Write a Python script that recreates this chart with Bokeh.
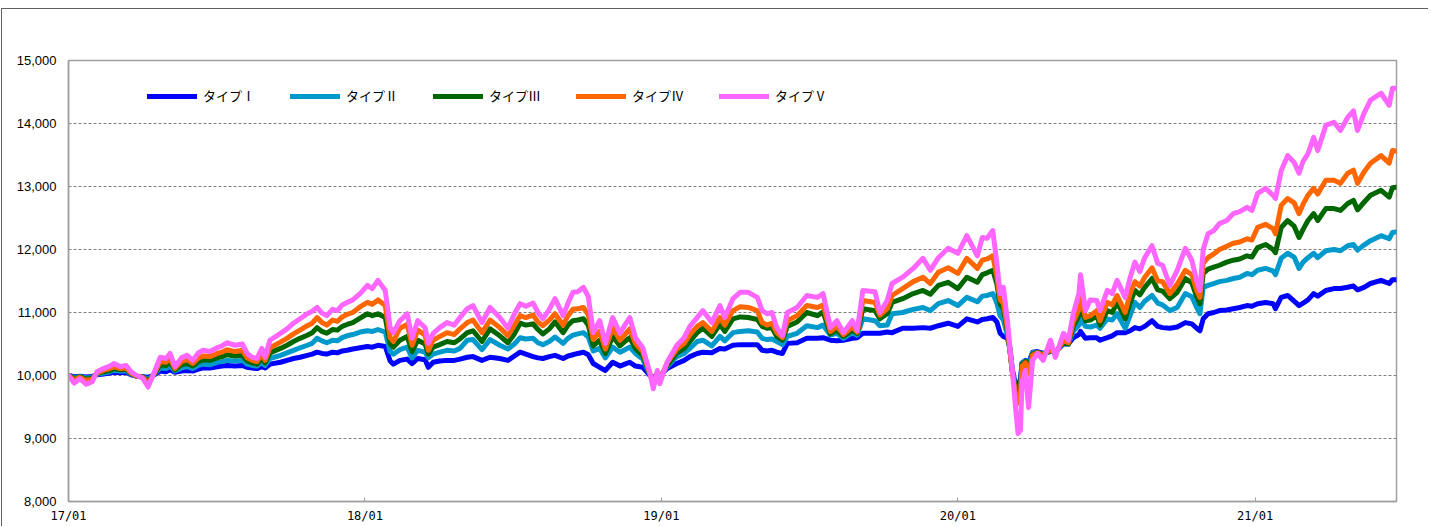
from datetime import datetime
import pandas as pd
from bokeh.plotting import figure
from bokeh.models import (Range1d, FixedTicker, NumeralTickFormatter, Legend,
                          LegendItem, ColumnDataSource)
from bokeh.embed import file_html
from bokeh.resources import INLINE

# ---------------- data ----------------
dates = [
    # 2017
    "2017-01-01", "2017-01-08", "2017-01-15", "2017-01-23", "2017-01-30", "2017-02-05", "2017-02-13", "2017-02-21",
    "2017-02-26", "2017-03-06", "2017-03-13", "2017-03-19", "2017-03-26", "2017-04-02", "2017-04-09", "2017-04-15",
    "2017-04-24", "2017-05-01", "2017-05-06", "2017-05-12", "2017-05-20", "2017-05-27", "2017-06-03", "2017-06-10",
    "2017-06-16", "2017-06-24", "2017-07-03", "2017-07-09", "2017-07-15", "2017-07-25", "2017-08-03", "2017-08-09",
    "2017-08-15", "2017-08-21", "2017-08-27", "2017-08-31", "2017-09-06", "2017-09-19", "2017-09-27", "2017-10-05",
    "2017-10-13", "2017-10-22", "2017-10-28", "2017-11-03", "2017-11-09", "2017-11-15", "2017-11-22", "2017-11-28",
    "2017-12-04", "2017-12-10", "2017-12-17", "2017-12-26",
    # 2018
    "2018-01-04", "2018-01-10", "2018-01-17", "2018-01-26", "2018-02-01", "2018-02-05", "2018-02-13", "2018-02-22",
    "2018-02-28", "2018-03-07", "2018-03-16", "2018-03-20", "2018-03-26", "2018-04-03", "2018-04-12", "2018-04-21",
    "2018-04-28", "2018-05-07", "2018-05-14", "2018-05-25", "2018-06-04", "2018-06-16", "2018-06-26", "2018-07-04",
    "2018-07-11", "2018-07-18", "2018-07-27", "2018-08-02", "2018-08-08", "2018-08-16", "2018-08-23", "2018-09-02",
    "2018-09-08", "2018-09-14", "2018-09-20", "2018-09-27", "2018-10-03", "2018-10-09", "2018-10-17", "2018-10-24",
    "2018-11-02", "2018-11-11", "2018-11-17", "2018-11-23", "2018-11-30", "2018-12-09", "2018-12-18", "2018-12-22",
    "2018-12-27", "2018-12-30",
    # 2019
    "2019-01-08", "2019-01-20", "2019-01-29", "2019-02-05", "2019-02-14", "2019-02-21", "2019-03-04", "2019-03-14",
    "2019-03-20", "2019-03-30", "2019-04-08", "2019-04-18", "2019-04-29", "2019-05-05", "2019-05-11", "2019-05-17",
    "2019-05-23", "2019-05-30", "2019-06-05", "2019-06-17", "2019-06-29", "2019-07-12", "2019-07-19", "2019-07-28",
    "2019-08-05", "2019-08-13", "2019-08-24", "2019-08-30", "2019-09-06", "2019-09-21", "2019-09-27", "2019-10-06",
    "2019-10-12", "2019-10-25", "2019-11-07", "2019-11-19", "2019-11-28", "2019-12-08", "2019-12-20",
    # 2020
    "2020-01-01", "2020-01-12", "2020-01-25", "2020-01-31", "2020-02-06", "2020-02-13", "2020-02-18", "2020-02-22",
    "2020-02-26", "2020-03-02", "2020-03-05", "2020-03-08", "2020-03-12", "2020-03-15", "2020-03-18", "2020-03-20",
    "2020-03-24", "2020-03-28", "2020-04-02", "2020-04-08", "2020-04-15", "2020-04-24", "2020-04-30", "2020-05-10",
    "2020-05-16", "2020-05-22", "2020-05-29", "2020-05-31", "2020-06-06", "2020-06-12", "2020-06-20", "2020-06-24",
    "2020-07-03", "2020-07-09", "2020-07-15", "2020-07-25", "2020-07-31", "2020-08-06", "2020-08-12", "2020-08-18",
    "2020-08-27", "2020-09-03", "2020-09-09", "2020-09-18", "2020-09-27", "2020-10-07", "2020-10-15", "2020-10-21",
    "2020-10-25", "2020-10-29", "2020-11-04", "2020-11-11", "2020-11-18", "2020-11-27", "2020-12-05", "2020-12-13",
    "2020-12-22", "2020-12-28",
    # 2021
    "2021-01-04", "2021-01-14", "2021-01-23", "2021-01-26", "2021-02-02", "2021-02-10", "2021-02-18", "2021-02-24",
    "2021-03-01", "2021-03-07", "2021-03-14", "2021-03-19", "2021-03-29", "2021-04-08", "2021-04-16", "2021-04-25",
    "2021-05-02", "2021-05-07", "2021-05-15", "2021-05-23", "2021-06-05", "2021-06-15", "2021-06-19", "2021-06-24",
]

type_1 = [
    10000, 9980, 9990, 9975, 9985, 10010, 10025, 10040, 10050, 10045, 10050, 10010, 9990, 9985, 9970, 10000,
    10070, 10060, 10090, 10050, 10070, 10080, 10070, 10100, 10120, 10120, 10140, 10150, 10160, 10150, 10160, 10130,
    10120, 10110, 10140, 10120, 10180, 10210, 10240, 10270, 10290, 10320, 10340, 10370, 10350, 10340, 10370, 10360,
    10390, 10400, 10420, 10440,
    10460, 10450, 10480, 10460, 10230, 10180, 10240, 10260, 10190, 10270, 10250, 10130, 10210, 10230, 10240, 10240,
    10260, 10290, 10300, 10240, 10290, 10270, 10240, 10310, 10370, 10340, 10300, 10280, 10270, 10300, 10320, 10270,
    10310, 10330, 10350, 10370, 10330, 10190, 10130, 10080, 10210, 10150, 10180, 10210, 10150, 10130, 10000, 9970,
    10020, 9990,
    10110, 10190, 10240, 10300, 10350, 10370, 10360, 10430, 10420, 10480, 10490, 10490, 10490, 10400, 10390, 10400,
    10370, 10350, 10510, 10520, 10590, 10590, 10600, 10560, 10550, 10560, 10590, 10600, 10670, 10670, 10670, 10690,
    10680, 10750, 10750, 10760, 10750, 10790, 10830,
    10780, 10900, 10850, 10890, 10900, 10920, 10850, 10670, 10620, 10590, 10440, 10100, 9850, 9800, 9950, 10200,
    10240, 10200, 10370, 10380, 10350, 10380, 10380, 10500, 10500, 10600, 10650, 10700, 10590, 10600, 10600, 10560,
    10600, 10630, 10680, 10680, 10710, 10760, 10740, 10780, 10870, 10780, 10760, 10750, 10770, 10840, 10820, 10750,
    10710, 10900, 10980, 11000, 11030, 11040, 11060, 11080, 11110, 11100,
    11140, 11160, 11140, 11060, 11240, 11270, 11180, 11110, 11150, 11200, 11300, 11260, 11350, 11380, 11380, 11400,
    11420, 11360, 11400, 11460, 11510, 11460, 11520, 11520,
]

type_2 = [
    10000, 9965, 9985, 9960, 9970, 10020, 10040, 10060, 10080, 10070, 10075, 10020, 9990, 9980, 9940, 10000,
    10120, 10110, 10150, 10070, 10120, 10140, 10110, 10160, 10180, 10170, 10210, 10220, 10240, 10230, 10240, 10180,
    10160, 10150, 10210, 10160, 10270, 10320, 10360, 10400, 10440, 10480, 10510, 10590, 10550, 10520, 10560, 10550,
    10600, 10630, 10650, 10690,
    10710, 10700, 10730, 10690, 10380, 10340, 10410, 10450, 10280, 10400, 10370, 10280, 10340, 10370, 10400, 10390,
    10430, 10560, 10570, 10410, 10570, 10480, 10420, 10500, 10600, 10580, 10590, 10520, 10490, 10540, 10610, 10510,
    10590, 10640, 10660, 10680, 10610, 10390, 10430, 10280, 10450, 10370, 10410, 10450, 10350, 10260, 10010, 9950,
    10030, 9970,
    10140, 10300, 10350, 10430, 10540, 10560, 10470, 10620, 10550, 10680, 10700, 10710, 10690, 10590, 10570, 10580,
    10540, 10490, 10620, 10670, 10790, 10760, 10800, 10640, 10670, 10590, 10680, 10640, 10900, 10870, 10790, 10800,
    10980, 11000, 11050, 11080, 11030, 11140, 11190,
    11110, 11240, 11170, 11260, 11270, 11300, 11150, 10950, 10880, 10640, 10420, 10080, 9800, 9680, 9850, 10200,
    10230, 10160, 10360, 10370, 10340, 10390, 10370, 10510, 10500, 10700, 10800, 10900, 10780, 10770, 10800, 10750,
    10900, 10880, 10980, 10750, 10950, 11160, 11080, 11180, 11270, 11150, 11120, 11030, 11080, 11300, 11250, 11080,
    10980, 11400, 11430, 11460, 11490, 11510, 11540, 11560, 11620, 11600,
    11670, 11700, 11660, 11600, 11860, 11940, 11880, 11700, 11800, 11870, 11940, 11870, 11980, 12000, 11980, 12060,
    12080, 11990, 12070, 12140, 12220, 12170, 12270, 12280,
]

type_3 = [
    10000, 9950, 9980, 9940, 9955, 10030, 10060, 10080, 10110, 10090, 10100, 10030, 9990, 9975, 9910, 10000,
    10170, 10160, 10210, 10090, 10170, 10190, 10150, 10220, 10250, 10240, 10280, 10300, 10330, 10310, 10320, 10230,
    10200, 10180, 10280, 10200, 10360, 10430, 10480, 10540, 10590, 10640, 10680, 10760, 10700, 10670, 10730, 10720,
    10780, 10810, 10840, 10910,
    10980, 10950, 10980, 10920, 10500, 10450, 10560, 10620, 10380, 10560, 10500, 10340, 10450, 10490, 10540, 10520,
    10580, 10680, 10710, 10540, 10740, 10630, 10520, 10660, 10830, 10800, 10820, 10730, 10660, 10740, 10850, 10680,
    10800, 10870, 10880, 10900, 10800, 10470, 10560, 10350, 10620, 10470, 10540, 10600, 10430, 10320, 10010, 9920,
    10040, 9950,
    10160, 10360, 10430, 10540, 10680, 10750, 10620, 10810, 10700, 10900, 10930, 10920, 10890, 10780, 10750, 10760,
    10620, 10560, 10780, 10850, 11000, 10950, 11010, 10660, 10720, 10620, 10720, 10670, 11060, 11030, 10900, 10980,
    11160, 11220, 11300, 11350, 11290, 11430, 11480,
    11380, 11560, 11480, 11600, 11630, 11670, 11450, 11130, 11060, 10700, 10400, 10060, 9780, 9580, 9780, 10180,
    10220, 10100, 10340, 10370, 10330, 10400, 10360, 10530, 10500, 10780, 10950, 11100, 10870, 10880, 10950, 10800,
    11030, 11000, 11160, 10900, 11150, 11350, 11280, 11400, 11540, 11360, 11340, 11220, 11320, 11540, 11470, 11250,
    11140, 11620, 11690, 11720, 11750, 11800, 11830, 11850, 11900, 11880,
    12030, 12080, 12000, 11950, 12350, 12460, 12370, 12190, 12320, 12460, 12570, 12460, 12650, 12650, 12620, 12730,
    12780, 12630, 12750, 12860, 12940, 12830, 12980, 12990,
]

type_4 = [
    10000, 9930, 9970, 9920, 9940, 10040, 10080, 10110, 10140, 10110, 10120, 10040, 9990, 9970, 9880, 10000,
    10220, 10210, 10270, 10110, 10220, 10250, 10190, 10280, 10310, 10300, 10350, 10370, 10410, 10380, 10400, 10280,
    10240, 10220, 10340, 10240, 10440, 10530, 10590, 10660, 10720, 10790, 10830, 10920, 10840, 10800, 10880, 10860,
    10930, 10970, 11000, 11090,
    11160, 11130, 11200, 11110, 10600, 10540, 10750, 10810, 10480, 10720, 10640, 10400, 10560, 10620, 10680, 10650,
    10740, 10840, 10880, 10680, 10880, 10760, 10630, 10800, 10950, 10920, 10960, 10850, 10790, 10880, 10980, 10800,
    10950, 11050, 11060, 11080, 10960, 10570, 10700, 10420, 10760, 10560, 10650, 10740, 10510, 10380, 10020, 9880,
    10060, 9930,
    10200, 10420, 10510, 10650, 10780, 10840, 10700, 10920, 10800, 11030, 11090, 11080, 11030, 10840, 10800, 10830,
    10680, 10600, 10870, 10950, 11110, 11080, 11120, 10700, 10780, 10650, 10770, 10690, 11190, 11160, 10960, 11060,
    11270, 11380, 11490, 11560, 11460, 11640, 11710,
    11620, 11860, 11700, 11830, 11850, 11900, 11570, 11200, 11150, 10750, 10400, 10050, 9700, 9560, 9700, 10150,
    10200, 10030, 10320, 10360, 10320, 10420, 10350, 10560, 10520, 10850, 11050, 11250, 10920, 10950, 11030, 10870,
    11160, 11120, 11270, 11000, 11300, 11490, 11420, 11560, 11710, 11500, 11490, 11300, 11450, 11670, 11600, 11350,
    11240, 11780, 11870, 11930, 12000, 12050, 12100, 12120, 12170, 12150,
    12350, 12400, 12330, 12250, 12700, 12810, 12740, 12570, 12720, 12860, 12970, 12880, 13100, 13100, 13050, 13210,
    13260, 13050, 13230, 13370, 13490, 13370, 13570, 13560,
]

type_5 = [
    10000, 9880, 9950, 9860, 9900, 10060, 10110, 10150, 10190, 10140, 10160, 10060, 10000, 9960, 9820, 10000,
    10290, 10270, 10350, 10140, 10280, 10320, 10240, 10360, 10400, 10380, 10440, 10470, 10520, 10480, 10500, 10350,
    10290, 10270, 10430, 10290, 10560, 10670, 10740, 10830, 10900, 10980, 11020, 11080, 10990, 10950, 11050, 11030,
    11120, 11160, 11200, 11300,
    11430, 11380, 11510, 11350, 10760, 10680, 10870, 10980, 10590, 10870, 10760, 10510, 10670, 10760, 10840, 10800,
    10920, 11060, 11110, 10840, 11080, 10920, 10750, 10980, 11140, 11100, 11150, 11000, 10900, 11050, 11220, 10950,
    11150, 11320, 11330, 11400, 11250, 10680, 10870, 10510, 10920, 10670, 10800, 10920, 10600, 10440, 10030, 9790,
    10080, 9870,
    10210, 10480, 10600, 10780, 10920, 11030, 10840, 11110, 10920, 11220, 11320, 11320, 11240, 11030, 10980, 11000,
    10760, 10630, 11000, 11080, 11270, 11240, 11300, 10760, 10870, 10680, 10870, 10710, 11350, 11330, 11000, 11190,
    11460, 11560, 11700, 11860, 11670, 11870, 12020,
    11940, 12220, 11900, 12190, 12180, 12300, 11780, 11300, 11400, 10870, 10440, 10100, 9490, 9080, 9130, 9900,
    10080, 9490, 10240, 10350, 10240, 10560, 10290, 10670, 10560, 10980, 11300, 11600, 11030, 11200, 11190, 11030,
    11350, 11300, 11510, 11240, 11550, 11800, 11650, 11870, 12060, 11780, 11750, 11430, 11670, 12020, 11830, 11500,
    11350, 12000, 12250, 12300, 12410, 12460, 12570, 12600, 12670, 12620,
    12890, 12970, 12860, 12810, 13250, 13490, 13380, 13210, 13400, 13520, 13780, 13570, 13970, 14020, 13890, 14100,
    14200, 13890, 14160, 14370, 14480, 14290, 14560, 14560,
]

series_names = ["タイプⅠ", "タイプⅡ", "タイプⅢ", "タイプⅣ", "タイプⅤ"]
series_colors = ["#0000FF", "#0099CC", "#006600", "#FF6600", "#FF66FF"]

x_start, x_end = "2017-01-01", "2021-06-24"
tick_dates = ["2017-01-01", "2018-01-01", "2019-01-01", "2020-01-01", "2021-01-01"]
tick_labels = ["17/01", "18/01", "19/01", "20/01", "21/01"]
y_ticks = [8000, 9000, 10000, 11000, 12000, 13000, 14000, 15000]

# ---------------- figure ----------------
series = [type_1, type_2, type_3, type_4, type_5]
for s in series:
    assert len(s) == len(dates), (len(s), len(dates))

src = ColumnDataSource(dict(
    date=pd.to_datetime(dates),
    t1=type_1, t2=type_2, t3=type_3, t4=type_4, t5=type_5,
))

p = figure(width=1427, height=518, x_axis_type="datetime",
           output_backend="svg", toolbar_location=None,
           x_range=Range1d(pd.Timestamp(x_start), pd.Timestamp(x_end)),
           y_range=Range1d(y_ticks[0], y_ticks[-1]),
           min_border_left=66, min_border_right=33, min_border_top=51, min_border_bottom=26)

p.styles = {"border-top": "1px solid #606060", "border-left": "1px solid #606060",
            "margin-top": "8px", "margin-left": "1px"}

renderers = []
for key, col in zip(["t1", "t2", "t3", "t4", "t5"], series_colors):
    r = p.line("date", key, source=src, line_color=col, line_width=5,
               line_join="round", line_cap="round")
    renderers.append(r)

legend = Legend(items=[LegendItem(label=n, renderers=[r]) for n, r in zip(series_names, renderers)],
                orientation="horizontal", location=(79, 396),
                glyph_width=50, glyph_height=16, label_standoff=6, label_width=87,
                spacing=0, padding=0, margin=0,
                border_line_alpha=0, background_fill_alpha=0,
                label_text_font="Noto Sans CJK JP", label_text_font_size="13px",
                label_text_color="#000000")
p.add_layout(legend)

# axes
tick_ms = [pd.Timestamp(d).value // 10**6 for d in tick_dates]
p.xaxis.ticker = FixedTicker(ticks=tick_ms)
p.xaxis.major_label_overrides = {t: lab for t, lab in zip(tick_ms, tick_labels)}
p.xaxis.major_tick_in = 4
p.xaxis.major_tick_out = 0
p.xaxis.minor_tick_in = 0
p.xaxis.minor_tick_out = 0
p.xaxis.major_label_standoff = 7
p.xaxis.major_label_text_font = "DejaVu Sans Mono"
p.xaxis.major_label_text_font_size = "12px"
p.xaxis.major_label_text_color = "#000000"
p.xaxis.axis_line_color = "#A0A0A0"
p.xaxis.axis_line_width = 1.5
p.xaxis.major_tick_line_color = "#A0A0A0"

p.yaxis.ticker = FixedTicker(ticks=y_ticks)
p.yaxis.formatter = NumeralTickFormatter(format="0,0")
p.yaxis.major_tick_in = 0
p.yaxis.major_tick_out = 0
p.yaxis.minor_tick_in = 0
p.yaxis.minor_tick_out = 0
p.yaxis.major_label_standoff = 12
p.yaxis.major_label_text_font = "Liberation Sans"
p.yaxis.major_label_text_font_size = "13px"
p.yaxis.major_label_text_color = "#000000"
p.yaxis.axis_line_color = "#A0A0A0"
p.yaxis.axis_line_width = 1.5

p.xgrid.visible = False
p.ygrid.grid_line_color = "#808080"
p.ygrid.grid_line_dash = "3 2"
p.ygrid.grid_line_width = 1
p.outline_line_color = "#A0A0A0"
p.outline_line_width = 1.5
p.background_fill_color = "#FFFFFF"
p.border_fill_color = "#FFFFFF"

open("out.html", "w").write(file_html(p, INLINE))
